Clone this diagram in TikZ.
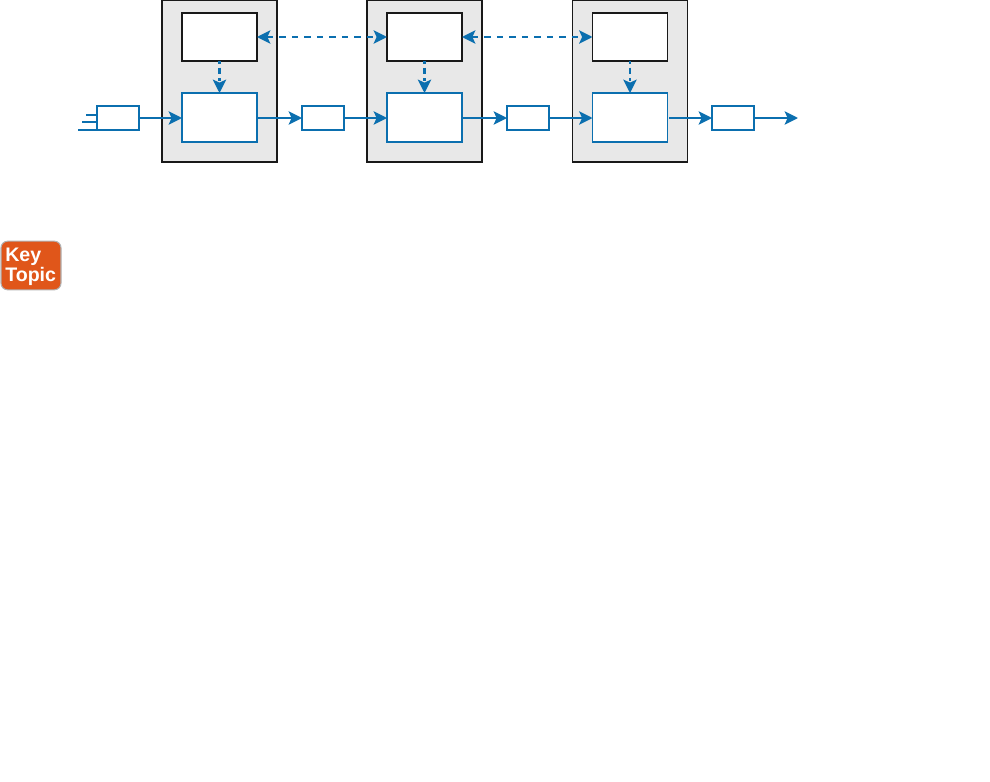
\documentclass[tikz,border=0pt]{standalone}
\usepackage{fontspec}
\setsansfont{Liberation Sans}
\definecolor{LinkBlue}{RGB}{11,111,175}
\definecolor{UnitGray}{RGB}{232,232,232}
\definecolor{BadgeOrange}{RGB}{224,86,26}
\definecolor{BadgeEdge}{RGB}{178,178,178}
\usetikzlibrary{arrows.meta}
\tikzset{
  tip/.tip={Stealth[length=10pt,width=10pt,inset=2.2pt]},
  unitbox/.style={draw=black!90,fill=UnitGray,line width=1.1pt,minimum width=86pt,minimum height=121.5pt,inner sep=0pt,outer sep=0pt},
  ctrlbox/.style={draw=black!90,fill=white,line width=0.85pt,minimum width=56.25pt,minimum height=36pt,inner sep=0pt,outer sep=0pt},
  databox/.style={draw=LinkBlue,fill=white,line width=0.85pt,minimum width=56.25pt,minimum height=36.75pt,inner sep=0pt,outer sep=0pt},
  bufbox/.style={draw=LinkBlue,fill=white,line width=1.5pt,minimum width=31.5pt,minimum height=18pt,inner sep=0pt,outer sep=0pt},
  flow/.style={draw=LinkBlue,line width=1.6pt,-tip},
  peer/.style={draw=LinkBlue,line width=1.7pt,dash pattern=on 4.7pt off 4.7pt,tip-tip},
  down/.style={draw=LinkBlue,line width=1.7pt,dash pattern=on 2pt off 3pt on 5pt off 3pt,-tip},
  stub/.style={draw=LinkBlue,line width=1.5pt}
}
\begin{document}
\begin{tikzpicture}[x=0.75pt,y=-0.75pt]
\useasboundingbox (0,0) rectangle (990,782);
% gray units
\node[unitbox] (unitA) at (219.5,81) {};
\node[unitbox] (unitB) at (424.5,81) {};
\node[unitbox] (unitC) at (630,81) {};
% upper boxes
\node[ctrlbox] (ctrlA) at (219.5,37) {};
\node[ctrlbox] (ctrlB) at (424.5,37) {};
\node[ctrlbox] (ctrlC) at (630,37) {};
% lower boxes
\node[databox] (dataA) at (219.5,117.5) {};
\node[databox] (dataB) at (424.5,117.5) {};
\node[databox] (dataC) at (630,117.5) {};
% small boxes
\node[bufbox] (bufA) at (118,118) {};
\node[bufbox] (bufB) at (323,118) {};
\node[bufbox] (bufC) at (528,118) {};
\node[bufbox] (bufD) at (733,118) {};
% free ends
\coordinate (stubA) at (86,115);
\coordinate (stubB) at (82,122);
\coordinate (stubC) at (78,130);
\coordinate (outEnd) at (798,118);
% input stubs
\draw[stub] (stubA) -- (stubA -| bufA.west);
\draw[stub] (stubB) -- (stubB -| bufA.west);
\draw[stub] (stubC) -- (bufA.south west);
% solid links
\draw[flow] (bufA.east) -- (bufA.east -| dataA.west);
\draw[flow] (bufA.east -| dataA.east) -- (bufB.west);
\draw[flow] (bufB.east) -- (bufB.east -| dataB.west);
\draw[flow] (bufB.west -| dataB.east) -- (bufC.west);
\draw[flow] (bufC.east) -- (bufC.east -| dataC.west);
\draw[flow,shorten <=1.2pt] (bufC.east -| dataC.east) -- (bufD.west);
\draw[flow] (bufD) -- (outEnd);
% dashed links
\draw[peer] (ctrlA) -- (ctrlB);
\draw[peer] (ctrlB) -- (ctrlC);
\draw[down] (ctrlA) -- (dataA);
\draw[down] (ctrlB) -- (dataB);
\draw[down] (ctrlC) -- (dataC);
% badge
\node[draw=BadgeEdge,fill=BadgeOrange,line width=0.8pt,rounded corners=5pt,minimum width=45pt,minimum height=36.5pt,inner sep=0pt,outer sep=0pt] (badge) at (31,265.5) {};
\node[text=white,font=\sffamily\bfseries\fontsize{14.7}{12.2}\selectfont,align=left,inner sep=0pt,anchor=west] (badgeText) at (5,267) {Key\\Topic};
\end{tikzpicture}
\end{document}
